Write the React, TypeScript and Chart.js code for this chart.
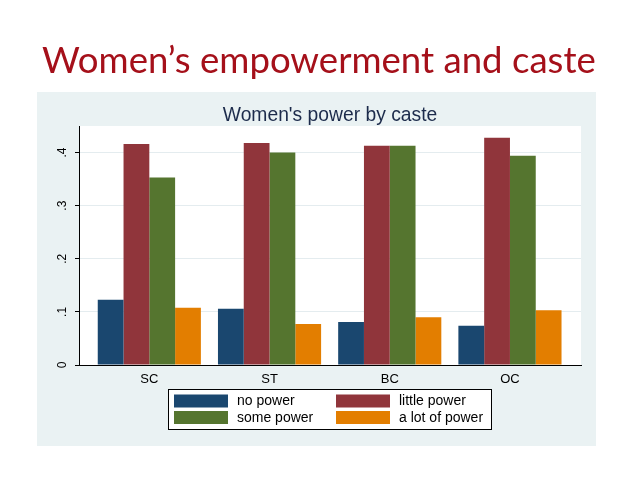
import React, { useEffect, useRef } from "react";
import { Chart, registerables } from "chart.js";

Chart.register(...registerables);

const slideTitle = "Women’s empowerment and caste";
const chartTitle = "Women's power by caste";
const categories = ["SC", "ST", "BC", "OC"];
const seriesLabels = ["no power", "little power", "some power", "a lot of power"];
const noPower = [0.123, 0.106, 0.081, 0.074];
const littlePower = [0.416, 0.418, 0.413, 0.428];
const somePower = [0.353, 0.4, 0.413, 0.394];
const aLotOfPower = [0.108, 0.077, 0.09, 0.103];
const yTickValues = [0, 0.1, 0.2, 0.3, 0.4];
const yTickLabels = ["0", ".1", ".2", ".3", ".4"];

const seriesColors = ["#1a476f", "#90353b", "#55752f", "#e37e00"];

const decorPlugin = {
  id: "decor",
  beforeDraw(chart: any) {
    const ctx = chart.ctx;
    const ca = chart.chartArea;
    ctx.save();
    ctx.fillStyle = "#ffffff";
    ctx.fillRect(0, 0, chart.width, chart.height);
    ctx.fillStyle = "#eaf2f3";
    ctx.fillRect(37, 92, 559, 354);
    ctx.fillStyle = "#ffffff";
    ctx.fillRect(ca.left, ca.top, ca.right - ca.left, ca.bottom - ca.top);
    // slide title
    ctx.fillStyle = "#a5101a";
    ctx.font = "36.6px Lato";
    ctx.textAlign = "left";
    ctx.textBaseline = "alphabetic";
    ctx.fillText(slideTitle, 42, 73);
    // chart title
    ctx.fillStyle = "#1c2b4b";
    ctx.font = "19.3px 'Liberation Sans'";
    ctx.textAlign = "center";
    ctx.fillText(chartTitle, (ca.left + ca.right) / 2, 121);
    ctx.restore();
  },
  afterDraw(chart: any) {
    const ctx = chart.ctx;
    ctx.save();
    // legend box
    ctx.fillStyle = "#ffffff";
    ctx.fillRect(168.5, 389.5, 323, 40);
    ctx.strokeStyle = "#000000";
    ctx.lineWidth = 1;
    ctx.strokeRect(168.5, 389.5, 323, 40);
    const order = [0, 1, 2, 3];
    const colX = [174, 336];
    const rowY = [394.5, 411];
    ctx.font = "14px 'Liberation Sans'";
    ctx.textAlign = "left";
    ctx.textBaseline = "middle";
    order.forEach((di, k) => {
      const ds = chart.data.datasets[di];
      const col = k % 2;
      const row = Math.floor(k / 2);
      ctx.fillStyle = ds.backgroundColor;
      ctx.fillRect(colX[col], rowY[row], 54, 13);
      ctx.fillStyle = "#000000";
      ctx.fillText(ds.label, colX[col] + 63, rowY[row] + 7);
    });
    ctx.restore();
  },
};

export default function App() {
  const ref = useRef<HTMLCanvasElement | null>(null);
  useEffect(() => {
    if (!ref.current) return;
    const allSeries = [noPower, littlePower, somePower, aLotOfPower];
    const chart = new Chart(ref.current, {
      type: "bar",
      data: {
        datasets: allSeries.map((vals, si) => ({
          label: seriesLabels[si],
          data: categories.map((_, i) => ({ x: i, y: vals[i] })),
          backgroundColor: seriesColors[si],
          borderWidth: 0,
          categoryPercentage: 0.858,
          barPercentage: 1,
        })),
      },
      options: {
        responsive: false,
        animation: false,
        devicePixelRatio: 1,
        layout: { padding: { left: 49, right: 57, top: 126, bottom: 94 } },
        plugins: {
          legend: { display: false },
          title: { display: false },
          tooltip: { enabled: false },
        },
        scales: {
          x: {
            type: "linear",
            min: -0.585,
            max: 3.591,
            offset: false,
            grid: { display: false, drawTicks: false },
            border: { display: true, color: "#000000", width: 1 },
            afterBuildTicks: (scale: any) => {
              scale.ticks = categories.map((_, i) => ({ value: i }));
            },
            afterFit: (scale: any) => {
              scale.height = 20;
            },
            ticks: {
              padding: 7,
              color: "#000000",
              font: { family: "'Liberation Sans'", size: 13 },
              maxRotation: 0,
              autoSkip: false,
              callback: (v: any) => categories[Math.round(Number(v))] ?? "",
            },
          },
          y: {
            type: "linear",
            min: 0,
            max: 0.45,
            afterBuildTicks: (scale: any) => {
              scale.ticks = yTickValues.map((v) => ({ value: v }));
            },
            afterFit: (scale: any) => {
              scale.width = 30;
            },
            grid: {
              color: (c: any) => (c.tick && c.tick.value === 0 ? "rgba(0,0,0,0)" : "#e4ecef"),
              tickColor: "#000000",
              tickLength: 4,
              lineWidth: 1,
            },
            border: { display: true, color: "#000000", width: 1 },
            ticks: {
              padding: 7,
              minRotation: 90,
              maxRotation: 90,
              crossAlign: "center",
              color: "#000000",
              font: { family: "'Liberation Sans'", size: 12 },
              autoSkip: false,
              callback: (v: any) => {
                const idx = yTickValues.findIndex((t) => Math.abs(t - Number(v)) < 1e-9);
                return idx >= 0 ? yTickLabels[idx] : "";
              },
            },
          },
        },
      },
      plugins: [decorPlugin],
    } as any);
    return () => chart.destroy();
  }, []);
  return (
    <div style={{ position: "absolute", left: 0, top: 0, width: 638, height: 479, background: "#ffffff" }}>
      <canvas ref={ref} width={638} height={479} style={{ width: 638, height: 479, display: "block" }} />
    </div>
  );
}
